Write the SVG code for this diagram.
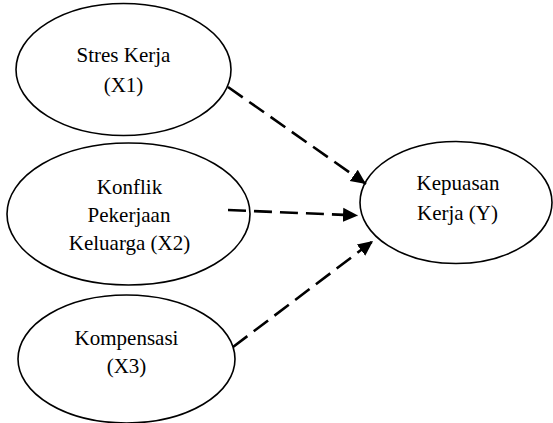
<svg xmlns="http://www.w3.org/2000/svg" width="553" height="423" viewBox="0 0 553 423">
<style>
.node ellipse{fill:#fff;stroke:#000;stroke-width:1.6}
.node text{font-family:"Liberation Serif","Times New Roman",serif;font-size:21px;fill:#000;text-anchor:middle}
.conn line{stroke:#000;stroke-width:2.6;stroke-dasharray:18 8;fill:none}
</style>
<defs>
<marker id="ah" markerUnits="userSpaceOnUse" markerWidth="16" markerHeight="16" refX="15" refY="7" orient="auto" viewBox="0 0 16 14">
<path d="M0,0 L15,7 L0,14 Z" fill="#000"/>
</marker>
</defs>
<rect width="553" height="423" fill="#fff"/>
<g id="n-x1" class="node">
<ellipse cx="123.5" cy="69.5" rx="107.5" ry="66"/>
<text x="123.5" y="62">Stres Kerja</text>
<text x="123.5" y="92">(X1)</text>
</g>
<g id="n-x2" class="node">
<ellipse cx="128.5" cy="214" rx="121.5" ry="71"/>
<text x="129.5" y="194">Konflik</text>
<text x="129" y="222">Pekerjaan</text>
<text x="129.5" y="250">Keluarga (X2)</text>
</g>
<g id="n-x3" class="node">
<ellipse cx="126.5" cy="359" rx="108.5" ry="64"/>
<text x="126.5" y="345">Kompensasi</text>
<text x="126.5" y="373">(X3)</text>
</g>
<g id="n-y" class="node">
<ellipse cx="456" cy="202.5" rx="96" ry="61"/>
<text x="458" y="190">Kepuasan</text>
<text x="457.5" y="220">Kerja (Y)</text>
</g>
<g id="connectors" class="conn">
<line x1="228" y1="87" x2="366" y2="184" marker-end="url(#ah)"/>
<line x1="228" y1="210" x2="358" y2="215.5" marker-end="url(#ah)"/>
<line x1="233" y1="347" x2="373" y2="241" marker-end="url(#ah)"/>
</g>
</svg>
